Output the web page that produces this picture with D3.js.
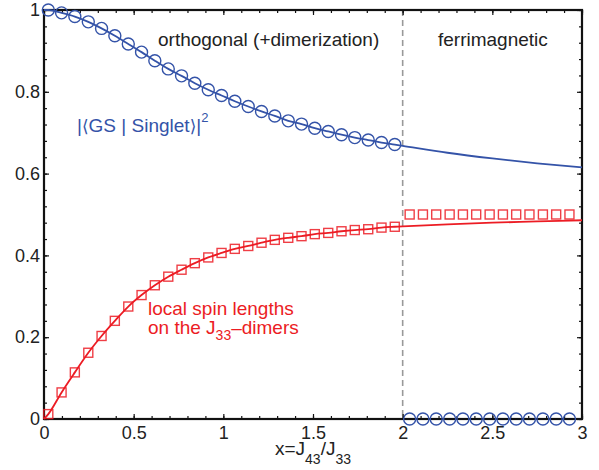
<!DOCTYPE html>
<html>
<head>
<meta charset="utf-8">
<script src="https://cdn.jsdelivr.net/npm/d3@7"></script>
<style>
  html, body { margin: 0; padding: 0; background: #fff; }
  svg { display: block; }
  text { font-family: "Liberation Sans", Arial, Helvetica, sans-serif; }
</style>
</head>
<body>
<svg id="chart" width="599" height="470"></svg>
<script>
// marker positions, orthogonal phase (x < 2)
const orthoX = [0.024, 0.098, 0.172, 0.247, 0.321, 0.395, 0.470, 0.544, 0.618, 0.693, 0.767, 0.841, 0.916, 0.990,
                1.064, 1.139, 1.213, 1.287, 1.362, 1.436, 1.510, 1.585, 1.659, 1.733, 1.808, 1.882, 1.956];
const gsOrtho = [1.000, 0.993, 0.984, 0.971, 0.955, 0.937, 0.917, 0.897, 0.876, 0.856, 0.839, 0.821, 0.805, 0.791,
                 0.777, 0.764, 0.752, 0.741, 0.729, 0.721, 0.711, 0.703, 0.695, 0.688, 0.682, 0.676, 0.671];
const spinOrtho = [0.012, 0.065, 0.114, 0.162, 0.203, 0.240, 0.275, 0.303, 0.327, 0.348, 0.365, 0.381, 0.395, 0.406,
                   0.416, 0.423, 0.431, 0.438, 0.443, 0.447, 0.452, 0.455, 0.459, 0.462, 0.464, 0.468, 0.470];

// marker positions, ferrimagnetic phase (x > 2)
const ferriX = [2.039, 2.113, 2.187, 2.262, 2.336, 2.410, 2.485, 2.559, 2.633, 2.707, 2.782, 2.856, 2.930];
const gsFerri = [0, 0, 0, 0, 0, 0, 0, 0, 0, 0, 0, 0, 0];
const spinFerri = [0.5, 0.5, 0.5, 0.5, 0.5, 0.5, 0.5, 0.5, 0.5, 0.5, 0.5, 0.5, 0.5];

// solid curves: start point and continuation past x = 2
const lineStartX = 0;
const gsLineStart = 1.0;
const spinLineStart = 0.0;
const lineFerriX = [2, 2.25, 2.5, 2.75, 3];
const gsLineFerri = [0.668, 0.651, 0.637, 0.625, 0.615];
const spinLineFerri = [0.471, 0.476, 0.480, 0.483, 0.486];

const xTicks = [0, 0.5, 1, 1.5, 2, 2.5, 3];
const xTickLabels = ["0", "0.5", "1", "1.5", "2", "2.5", "3"];
const yTicks = [0, 0.2, 0.4, 0.6, 0.8, 1];
const yTickLabels = ["0", "0.2", "0.4", "0.6", "0.8", "1"];
const transitionX = 2;

const blue = "#3453a8";
const red = "#ec1c24";

const svg = d3.select("#chart");
const margin = {left: 44, top: 10, right: 17, bottom: 51};
const W = 599 - margin.left - margin.right;
const H = 470 - margin.top - margin.bottom;

const x = d3.scaleLinear().domain([0, 3]).range([0, W]);
const y = d3.scaleLinear().domain([0, 1]).range([H, 0]);

const g = svg.append("g").attr("transform", `translate(${margin.left},${margin.top})`);

const xMinor = d3.range(0, 3.0001, 0.1).map(v => +v.toFixed(2));
const yMinor = d3.range(0, 1.0001, 0.04).map(v => +v.toFixed(2));

// dashed phase boundary
g.append("line")
  .attr("x1", x(transitionX)).attr("x2", x(transitionX))
  .attr("y1", 0).attr("y2", H)
  .attr("stroke", "#999").attr("stroke-width", 1.6)
  .attr("stroke-dasharray", "6,4");

function styleAxis(sel) {
  sel.select(".domain").remove();
  sel.selectAll("line").attr("stroke", "#111").attr("stroke-width", 1.2);
  sel.selectAll("text").attr("font-size", 18).attr("fill", "#222");
}

// bottom
g.append("g").attr("transform", `translate(0,${H})`)
  .call(d3.axisBottom(x).tickValues(xMinor).tickSize(-3).tickFormat(""))
  .call(styleAxis);
g.append("g").attr("transform", `translate(0,${H})`)
  .call(d3.axisBottom(x).tickValues(xTicks).tickSize(-5).tickPadding(7)
    .tickFormat((d, i) => xTickLabels[i]))
  .call(styleAxis);
// top
g.append("g")
  .call(d3.axisTop(x).tickValues(xMinor).tickSize(-3).tickFormat(""))
  .call(styleAxis);
g.append("g")
  .call(d3.axisTop(x).tickValues(xTicks).tickSize(-5).tickFormat(""))
  .call(styleAxis);
// left
g.append("g")
  .call(d3.axisLeft(y).tickValues(yMinor).tickSize(-3).tickFormat(""))
  .call(styleAxis);
g.append("g")
  .call(d3.axisLeft(y).tickValues(yTicks).tickSize(-5).tickPadding(4)
    .tickFormat((d, i) => yTickLabels[i]))
  .call(styleAxis);
// right
g.append("g").attr("transform", `translate(${W},0)`)
  .call(d3.axisRight(y).tickValues(yMinor).tickSize(-3).tickFormat(""))
  .call(styleAxis);
g.append("g").attr("transform", `translate(${W},0)`)
  .call(d3.axisRight(y).tickValues(yTicks).tickSize(-5).tickFormat(""))
  .call(styleAxis);

// frame
g.append("rect").attr("width", W).attr("height", H)
  .attr("fill", "none").attr("stroke", "#111").attr("stroke-width", 2.2);

const line = d3.line().x(d => x(d[0])).y(d => y(d[1])).curve(d3.curveMonotoneX);

const gsLine = [[lineStartX, gsLineStart]]
  .concat(orthoX.map((v, i) => [v, gsOrtho[i]]))
  .concat(lineFerriX.map((v, i) => [v, gsLineFerri[i]]));
const spinLine = [[lineStartX, spinLineStart]]
  .concat(orthoX.map((v, i) => [v, spinOrtho[i]]))
  .concat(lineFerriX.map((v, i) => [v, spinLineFerri[i]]));

g.append("path").datum(gsLine).attr("d", line)
  .attr("fill", "none").attr("stroke", blue).attr("stroke-width", 1.8);
g.append("path").datum(spinLine).attr("d", line)
  .attr("fill", "none").attr("stroke", red).attr("stroke-width", 1.8);

// circle markers
const circles = orthoX.map((v, i) => [v, gsOrtho[i]])
  .concat(ferriX.map((v, i) => [v, gsFerri[i]]));
g.selectAll("circle.gs").data(circles).enter().append("circle")
  .attr("class", "gs")
  .attr("cx", d => x(d[0])).attr("cy", d => y(d[1])).attr("r", 6)
  .attr("fill", "none").attr("stroke", blue).attr("stroke-width", 1.4);

// square markers
const sq = 9;
const squares = orthoX.map((v, i) => [v, spinOrtho[i]])
  .concat(ferriX.map((v, i) => [v, spinFerri[i]]));
g.selectAll("rect.spin").data(squares).enter().append("rect")
  .attr("class", "spin")
  .attr("x", d => x(d[0]) - sq / 2).attr("y", d => y(d[1]) - sq / 2)
  .attr("width", sq).attr("height", sq)
  .attr("fill", "none").attr("stroke", red).attr("stroke-opacity", 0.85).attr("stroke-width", 1.4);

// annotations
svg.append("text").attr("x", 158).attr("y", 46).attr("font-size", 19).attr("fill", "#222")
  .text("orthogonal (+dimerization)");
svg.append("text").attr("x", 438).attr("y", 46).attr("font-size", 19).attr("fill", "#222")
  .text("ferrimagnetic");

const gsLabel = svg.append("text").attr("x", 77).attr("y", 132).attr("font-size", 19).attr("fill", blue);
gsLabel.append("tspan").text("|");
gsLabel.append("tspan").attr("font-family", "DejaVu Sans").attr("font-size", 17).text("\u27E8");
gsLabel.append("tspan").text("GS | Singlet");
gsLabel.append("tspan").attr("font-family", "DejaVu Sans").attr("font-size", 17).text("\u27E9");
gsLabel.append("tspan").text("|");
gsLabel.append("tspan").attr("dy", -10).attr("font-size", 13).text("2");

svg.append("text").attr("x", 148).attr("y", 315).attr("font-size", 19).attr("fill", red)
  .text("local spin lengths");
const spinLabel = svg.append("text").attr("x", 148).attr("y", 334).attr("font-size", 19).attr("fill", red);
spinLabel.append("tspan").text("on the J");
spinLabel.append("tspan").attr("dy", 6).attr("font-size", 14).text("33");
spinLabel.append("tspan").attr("dy", -6).text("\u2013dimers");

// x-axis title
const xTitle = svg.append("text").attr("x", margin.left + W / 2).attr("y", 455)
  .attr("text-anchor", "middle").attr("font-size", 19).attr("fill", "#222");
xTitle.append("tspan").text("x=J");
xTitle.append("tspan").attr("dy", 9).attr("font-size", 14).text("43");
xTitle.append("tspan").attr("dy", -9).text("/J");
xTitle.append("tspan").attr("dy", 9).attr("font-size", 14).text("33");
</script>
</body>
</html>
